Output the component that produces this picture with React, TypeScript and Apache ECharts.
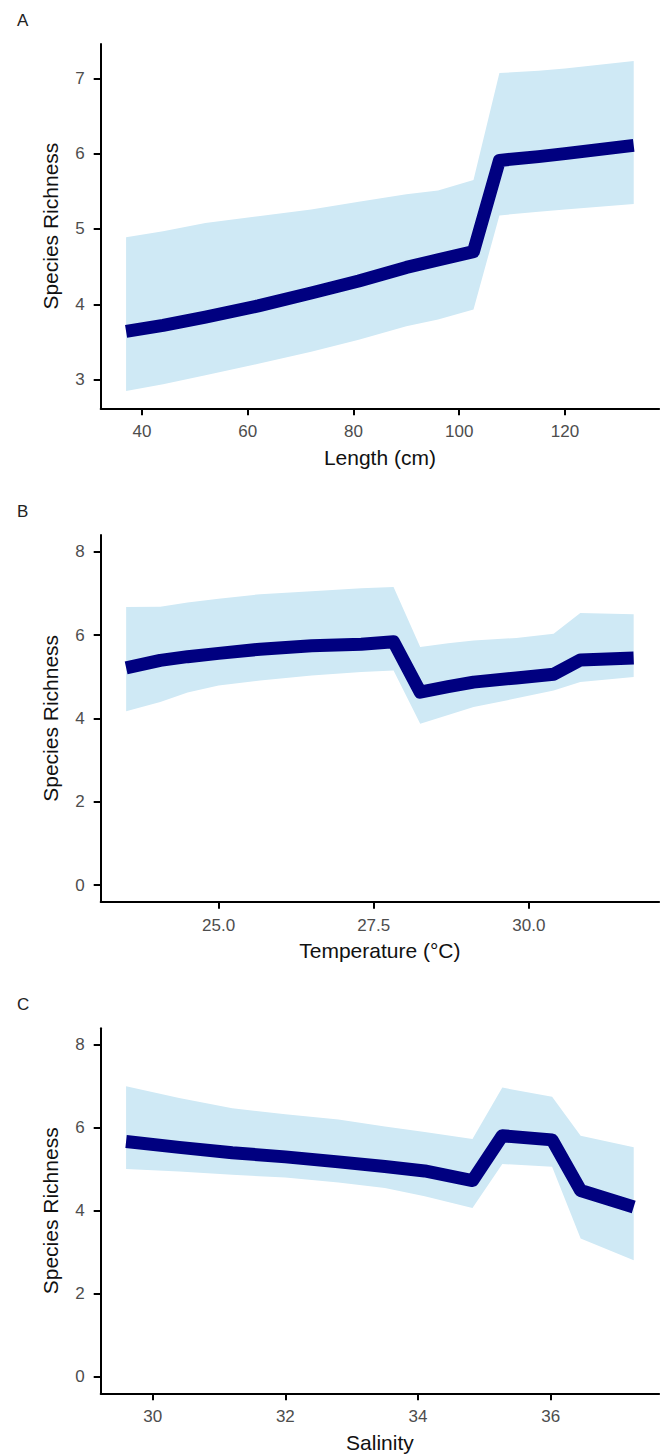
import React, { useEffect, useRef } from 'react';
import * as echarts from 'echarts';

// ---- Panel A: Length (cm)
const lengthX = [37, 44, 52, 62, 72, 81, 90, 96, 102.7, 107.6, 115, 120, 133];
const lengthMean = [3.64, 3.72, 3.83, 3.98, 4.15, 4.31, 4.49, 4.59, 4.70, 5.91, 5.96, 6.00, 6.11];
const lengthUpper = [4.89, 4.97, 5.08, 5.17, 5.26, 5.36, 5.46, 5.51, 5.65, 7.07, 7.10, 7.13, 7.23];
const lengthLower = [2.85, 2.94, 3.06, 3.21, 3.37, 3.53, 3.71, 3.80, 3.93, 5.18, 5.23, 5.26, 5.33];
const lengthXTicks = [40, 60, 80, 100, 120];
const lengthYTicks = [3, 4, 5, 6, 7];

// ---- Panel B: Temperature (°C)
const tempX = [23.51, 24.06, 24.5, 25.0, 25.67, 26.5, 27.3, 27.82, 28.25, 28.7, 29.11, 29.8, 30.4, 30.83, 31.69];
const tempMean = [5.21, 5.39, 5.48, 5.56, 5.66, 5.74, 5.78, 5.84, 4.63, 4.76, 4.87, 4.97, 5.06, 5.40, 5.45];
const tempUpper = [6.67, 6.68, 6.78, 6.87, 6.98, 7.05, 7.12, 7.15, 5.71, 5.80, 5.87, 5.93, 6.03, 6.53, 6.50];
const tempLower = [4.17, 4.39, 4.62, 4.79, 4.91, 5.03, 5.11, 5.15, 3.87, 4.08, 4.27, 4.48, 4.67, 4.87, 4.99];
const tempXTicks = [25, 27.5, 30];

// ---- Panel C: Salinity
const salX = [29.6, 30.4, 31.2, 32.0, 32.8, 33.5, 34.1, 34.82, 35.27, 36.02, 36.45, 37.25];
const salMean = [5.67, 5.53, 5.40, 5.30, 5.18, 5.07, 4.96, 4.73, 5.81, 5.71, 4.49, 4.09];
const salUpper = [7.00, 6.72, 6.47, 6.33, 6.20, 6.03, 5.90, 5.73, 6.97, 6.75, 5.81, 5.53];
const salLower = [5.01, 4.95, 4.87, 4.80, 4.68, 4.55, 4.35, 4.07, 5.13, 5.06, 3.33, 2.81];
const salXTicks = [30, 32, 34, 36];

const richYTicks = [0, 2, 4, 6, 8];

const FONT = '"Liberation Sans", Arial, Helvetica, sans-serif';
const NAVY = '#000080';
const RIBBON = '#cfe9f5';

const panels = [
  {
    letter: 'A', x: lengthX, mean: lengthMean, upper: lengthUpper, lower: lengthLower,
    xMin: 32.2, xMax: 137.8, yMin: 2.62, yMax: 7.455,
    xTicks: lengthXTicks, yTicks: lengthYTicks, xDigits: 0,
    xName: 'Length (cm)', top: 44, height: 364.3,
  },
  {
    letter: 'B', x: tempX, mean: tempMean, upper: tempUpper, lower: tempLower,
    xMin: 23.1, xMax: 32.1, yMin: -0.4, yMax: 8.4,
    xTicks: tempXTicks, yTicks: richYTicks, xDigits: 1,
    xName: 'Temperature (°C)', top: 535, height: 366.7,
  },
  {
    letter: 'C', x: salX, mean: salMean, upper: salUpper, lower: salLower,
    xMin: 29.2175, xMax: 37.6325, yMin: -0.4, yMax: 8.4,
    xTicks: salXTicks, yTicks: richYTicks, xDigits: 0,
    xName: 'Salinity', top: 1028.3, height: 365,
  },
];

const GRID_LEFT = 100.7;
const GRID_WIDTH = 558.4;

function buildOption() {
  const grid = panels.map((p) => ({
    left: GRID_LEFT, top: p.top, width: GRID_WIDTH, height: p.height, containLabel: false,
  }));
  const axisLine = { show: true, onZero: false, lineStyle: { color: '#000', width: 2 } };
  const xAxis = panels.map((p, i) => ({
    type: 'value', gridIndex: i, min: p.xMin, max: p.xMax,
    axisLine,
    axisTick: { show: true, length: 7, lineStyle: { color: '#000', width: 2 }, customValues: p.xTicks },
    axisLabel: {
      customValues: p.xTicks, color: '#4d4d4d', fontSize: 17, fontFamily: FONT, margin: 15,
      formatter: (v: number) => v.toFixed(p.xDigits),
    },
    splitLine: { show: false },
    name: p.xName, nameLocation: 'middle', nameGap: 49,
    nameTextStyle: { color: '#111', fontSize: 21, fontFamily: FONT, verticalAlign: 'middle' },
  }));
  const yAxis = panels.map((p, i) => ({
    type: 'value', gridIndex: i, min: p.yMin, max: p.yMax,
    axisLine,
    axisTick: { show: true, length: 7, lineStyle: { color: '#000', width: 2 }, customValues: p.yTicks },
    axisLabel: {
      customValues: p.yTicks, color: '#4d4d4d', fontSize: 17, fontFamily: FONT, margin: 16,
      formatter: (v: number) => String(v),
    },
    splitLine: { show: false },
    name: 'Species Richness', nameLocation: 'middle', nameGap: 50, nameRotate: 90,
    nameTextStyle: { color: '#111', fontSize: 21, fontFamily: FONT, verticalAlign: 'middle' },
  }));
  const series: any[] = [];
  panels.forEach((p, i) => {
    // confidence ribbon: one polygon (upper edge forward, lower edge backward)
    series.push({
      type: 'custom', xAxisIndex: i, yAxisIndex: i, silent: true, z: 1,
      data: p.x.map((xv, k) => [xv, p.lower[k], p.upper[k]]),
      encode: { x: 0, y: [1, 2] },
      renderItem: (params: any, api: any) => {
        if (params.dataIndex !== 0) return null;
        const pts: number[][] = [];
        for (let k = 0; k < p.x.length; k++) pts.push(api.coord([p.x[k], p.upper[k]]));
        for (let k = p.x.length - 1; k >= 0; k--) pts.push(api.coord([p.x[k], p.lower[k]]));
        return {
          type: 'polygon',
          shape: { points: pts },
          style: { fill: RIBBON, stroke: null },
        };
      },
    });
    series.push({
      type: 'line', xAxisIndex: i, yAxisIndex: i, symbol: 'none', silent: true,
      data: p.x.map((xv, k) => [xv, p.mean[k]]),
      lineStyle: { color: NAVY, width: 13, cap: 'butt', join: 'round' }, z: 3,
    });
  });
  const graphic = panels.map((p) => ({
    type: 'text', x: 17, y: p.top - 24,
    style: { text: p.letter, fontSize: 17, fontFamily: FONT, fill: '#222', verticalAlign: 'middle', align: 'left' },
  }));
  return {
    animation: false,
    backgroundColor: '#ffffff',
    grid, xAxis, yAxis, series, graphic,
  };
}

export default function App() {
  const ref = useRef<HTMLDivElement>(null);
  useEffect(() => {
    if (!ref.current) return;
    const chart = echarts.init(ref.current, undefined, { renderer: 'svg' });
    chart.setOption(buildOption() as any);
    return () => chart.dispose();
  }, []);
  return (
    <div
      ref={ref}
      style={{ position: 'absolute', left: 0, top: 0, width: 667, height: 1454, background: '#fff' }}
    />
  );
}
